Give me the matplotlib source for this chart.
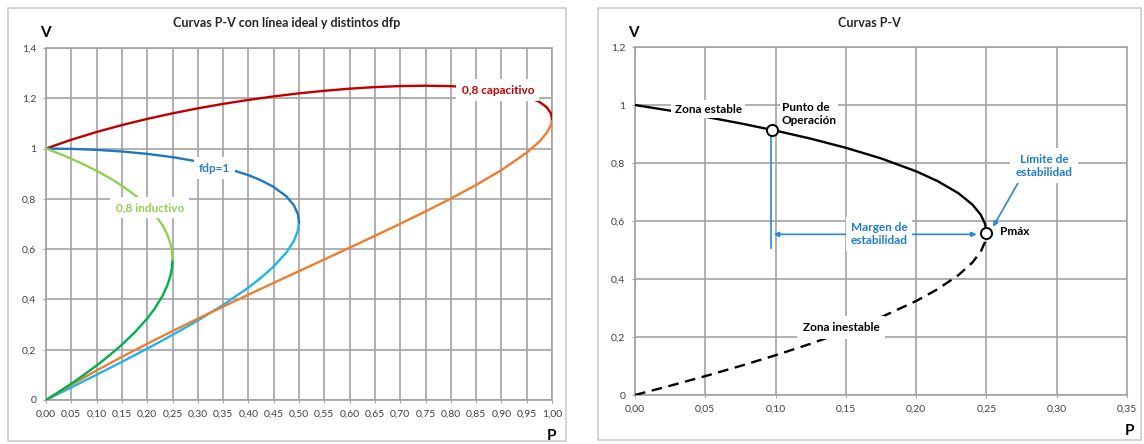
import matplotlib
matplotlib.use("Agg")
import matplotlib.pyplot as plt
from matplotlib.patches import Rectangle
from matplotlib.ticker import FuncFormatter, MultipleLocator

plt.rcParams['font.family'] = ['Lato', 'DejaVu Sans']

# ---- data ----
# fdp = 1
P_fdp1 = [0, 0.05, 0.1, 0.15, 0.2, 0.25, 0.3, 0.35, 0.4, 0.425, 0.45, 0.475, 0.49, 0.498, 0.5]
V_fdp1_up = [1.0, 0.9988, 0.9949, 0.9884, 0.9789, 0.9659, 0.9487, 0.9258, 0.8944, 0.8737,
             0.8473, 0.8100, 0.7743, 0.7380, 0.7071]
V_fdp1_low = [0.0, 0.0501, 0.1005, 0.1518, 0.2043, 0.2588, 0.3162, 0.3781, 0.4472, 0.4864,
              0.5311, 0.5864, 0.6329, 0.6748, 0.7071]

# 0,8 inductivo
P_ind = [0, 0.025, 0.05, 0.075, 0.1, 0.125, 0.15, 0.175, 0.2, 0.215, 0.23, 0.24, 0.246, 0.249, 0.25]
V_ind_up = [1.0, 0.9806, 0.9596, 0.9367, 0.9117, 0.8839, 0.8524, 0.8159, 0.7713, 0.7382,
            0.6960, 0.6568, 0.6214, 0.5904, 0.5590]
V_ind_low = [0.0, 0.0319, 0.0651, 0.1001, 0.1371, 0.1768, 0.2200, 0.2681, 0.3241, 0.3641,
             0.4131, 0.4568, 0.4949, 0.5272, 0.5590]

# 0,8 capacitivo
P_cap = [0, 0.05, 0.1, 0.15, 0.2, 0.25, 0.3, 0.35, 0.4, 0.45, 0.5, 0.55, 0.6, 0.65, 0.7,
         0.75, 0.8, 0.85, 0.9, 0.95, 0.975, 0.99, 0.998, 1.0]
V_cap_up = [1.0, 1.0351, 1.0660, 1.0934, 1.1180, 1.1401, 1.1600, 1.1777, 1.1935, 1.2075,
            1.2196, 1.2298, 1.2382, 1.2445, 1.2485, 1.25, 1.2483, 1.2425, 1.2305, 1.2073,
            1.1859, 1.1636, 1.1395, 1.1180]
V_cap_low = [0.0, 0.0604, 0.1173, 0.1715, 0.2236, 0.2741, 0.3233, 0.3715, 0.4189, 0.4659,
             0.5125, 0.5590, 0.6057, 0.6529, 0.7008, 0.75, 0.8011, 0.8552, 0.9143, 0.9836,
             1.0277, 1.0636, 1.0948, 1.1180]

# right chart: same P-V curve, operating point and max power point
P_op, V_op = 0.0977, 0.913
P_max, V_max = P_ind[-1], V_ind_up[-1]

grid_c = '#a3a3a3'
tick_c = '#404040'
blue_txt = '#1f7ccc'

fig = plt.figure(figsize=(11.44, 4.44), dpi=100)

# chart frames
for x0, y0, w, h in [(0.0066, 0.0068, 0.4882, 0.9752), (0.5227, 0.0090, 0.4751, 0.9730)]:
    fig.add_artist(Rectangle((x0, y0), w, h, transform=fig.transFigure, fill=False,
                             edgecolor='#c8c8c8', linewidth=1.1))


def comma(fmt):
    return FuncFormatter(lambda v, pos: (fmt % v).replace('.', ','))


def style_axes(ax, xmax, ymax, ystep, xfmt):
    ax.set_xlim(0, xmax)
    ax.set_ylim(0, ymax)
    ax.xaxis.set_major_locator(MultipleLocator(0.05))
    ax.yaxis.set_major_locator(MultipleLocator(ystep))
    ax.xaxis.set_major_formatter(comma(xfmt))
    ax.yaxis.set_major_formatter(FuncFormatter(lambda v, pos: ('%g' % round(v, 2)).replace('.', ',')))
    ax.grid(True, color=grid_c, linewidth=1.2, zorder=0)
    ax.set_axisbelow(True)
    for s in ax.spines.values():
        s.set_color(grid_c)
        s.set_linewidth(1.2)
    ax.tick_params(length=2.5, color=grid_c, labelsize=7.5, labelcolor=tick_c, pad=4.5)


# ---------------- left chart ----------------
ax1 = fig.add_axes([0.04021, 0.09910, 0.44231, 0.79279])
style_axes(ax1, 1.0, 1.4, 0.2, '%.2f')

lw = 1.7
ax1.plot(P_cap, V_cap_low, color='#ed7d31', lw=lw, zorder=3)
ax1.plot(P_fdp1, V_fdp1_low, color='#1fb4ef', lw=lw, zorder=2)
ax1.plot(P_ind, V_ind_low, color='#00b050', lw=lw, zorder=3)
ax1.plot(P_cap, V_cap_up, color='#c00000', lw=lw, zorder=3)
ax1.plot(P_fdp1, V_fdp1_up, color='#1f77c4', lw=lw, zorder=3)
ax1.plot(P_ind, V_ind_up, color='#92d050', lw=lw, zorder=3)

box = dict(boxstyle='square,pad=0.45', facecolor='white', edgecolor='none')
lab = dict(fontsize=8.5, fontweight='bold', ha='center', va='center', zorder=6, bbox=box)
ax1.text(0.893, 1.232, '0,8 capacitivo', color='#c00000', **lab)
ax1.text(0.333, 0.922, 'fdp=1', color='#2e7fc8', **lab)
ax1.text(0.205, 0.765, '0,8 inductivo', color='#92d050', **lab)

fig.text(287 / 1144, 1 - 23 / 444, 'Curvas P-V con línea ideal y distintos dfp',
         ha='center', va='center', fontsize=9, fontweight='bold', color='#262626')
fig.text(45 / 1144, 1 - 33 / 444, 'V', ha='center', va='center', fontsize=11, fontweight='bold')
fig.text(552 / 1144, 1 - 436 / 444, 'P', ha='center', va='center', fontsize=11, fontweight='bold')

# ---------------- right chart ----------------
ax2 = fig.add_axes([0.55507, 0.11036, 0.43007, 0.78378])
style_axes(ax2, 0.35, 1.2, 0.2, '%.2f')

ax2.plot(P_ind, V_ind_up, color='black', lw=1.7, zorder=3)
ax2.plot(P_ind, V_ind_low, color='black', lw=1.7, dashes=(4.5, 2.8), zorder=3)

# operating point and stability margin
ax2.plot([P_op - 0.001, P_op - 0.001], [V_op - 0.025, 0.508], color='#2a86d6', lw=1.2, zorder=3)
ax2.annotate('', xy=(P_op + 0.001, 0.554), xytext=(P_max - 0.007, 0.554),
             arrowprops=dict(arrowstyle='<|-|>', color='#2a86d6', lw=1.2, mutation_scale=7,
                             shrinkA=0, shrinkB=0), zorder=4)
ax2.annotate('', xy=(0.2547, 0.580), xytext=(0.2727, 0.733),
             arrowprops=dict(arrowstyle='-|>', color='#2a86d6', lw=1.2, mutation_scale=7,
                             shrinkA=0, shrinkB=0), zorder=4)
ax2.plot([P_op], [V_op], marker='o', ms=8, mfc='white', mec='black', mew=1.4, zorder=5)
ax2.plot([P_max], [V_max], marker='o', ms=8, mfc='white', mec='black', mew=1.4, zorder=5)

lab2 = dict(fontsize=8.5, fontweight='bold', va='center', zorder=6, linespacing=1.25)
ax2.text(0.052, 0.986, 'Zona estable', ha='center', color='black',
         bbox=dict(boxstyle='square,pad=0.3', facecolor='white', edgecolor='none'), **lab2)
ax2.text(0.1043, 0.970, 'Punto de\nOperación', ha='left', color='black',
         bbox=dict(boxstyle='square,pad=0.15', facecolor='white', edgecolor='none'), **lab2)
ax2.text(0.1737, 0.556, 'Margen de\nestabilidad', ha='center', color=blue_txt,
         bbox=dict(boxstyle='square,pad=0.4', facecolor='white', edgecolor='none'), **lab2)
ax2.text(0.291, 0.790, 'Límite de\nestabilidad', ha='center', color=blue_txt,
         bbox=dict(boxstyle='square,pad=0.45', facecolor='white', edgecolor='none'), **lab2)
ax2.text(0.2597, 0.565, 'Pmáx', ha='left', color='black', **lab2)
ax2.text(0.1466, 0.232, 'Zona inestable', ha='center', color='black',
         bbox=dict(boxstyle='square,pad=0.5', facecolor='white', edgecolor='none'), **lab2)

fig.text(869 / 1144, 1 - 23 / 444, 'Curvas P-V', ha='center', va='center',
         fontsize=9, fontweight='bold', color='#262626')
fig.text(633 / 1144, 1 - 33 / 444, 'V', ha='center', va='center', fontsize=11, fontweight='bold')
fig.text(1129 / 1144, 1 - 431 / 444, 'P', ha='center', va='center', fontsize=11, fontweight='bold')

fig.savefig('out.png', dpi=100)
